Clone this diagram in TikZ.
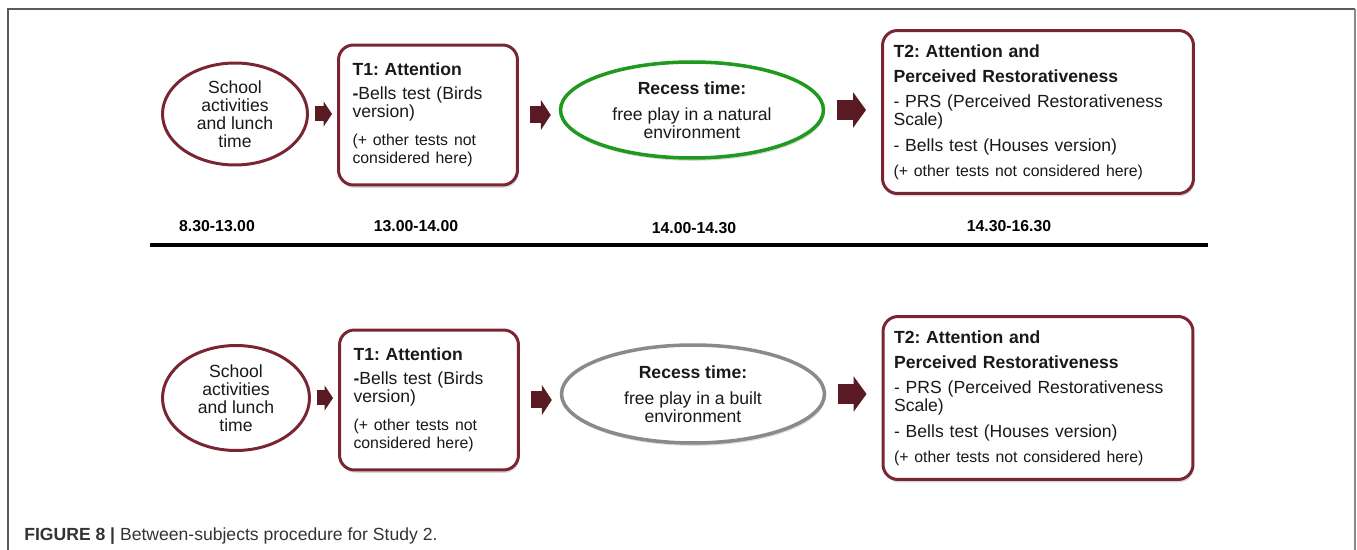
\documentclass[tikz,border=0pt]{standalone}
\usepackage{fontspec}
\setmainfont{Liberation Sans}
\usepackage{tikz}
\usetikzlibrary{arrows.meta,shapes.geometric,shadows}
\frenchspacing
\definecolor{boxmaroon}{HTML}{7A2532}
\definecolor{arrowmaroon}{HTML}{5A1A24}
\definecolor{naturegreen}{HTML}{1F9A1F}
\definecolor{builtgray}{HTML}{8A8A8A}
\definecolor{framegray}{HTML}{5A5A5A}
\definecolor{captiongray}{HTML}{333333}

\begin{document}
\begin{tikzpicture}[
    x=0.02cm, y=-0.02cm,
    every node/.style={font=\fontsize{10}{10.2}\selectfont, text=black!90},
    oval/.style={ellipse, draw=#1, line width=1.7pt, fill=white, inner sep=0pt, align=center},
    softshadow/.style={drop shadow={shadow xshift=0.6pt, shadow yshift=-1.6pt, opacity=0.25, fill=black!60}},
    testbox/.style={rectangle, rounded corners=8.5pt, draw=boxmaroon, line width=1.7pt, fill=white, align=left, inner ysep=0pt, softshadow},
    flow/.style n args={3}{arrowmaroon, line width=#1, -{Triangle[width=#2, length=#3]}},
    timelabel/.style={font=\bfseries\fontsize{9}{10}\selectfont, text=black}
]
    \useasboundingbox (0,0) rectangle (1357,550);

    % === FRAME ===
    \draw[framegray, line width=0.9pt] (8,550) -- (8,9) -- (1355,9);
    \draw[builtgray, line width=1.1pt] (1355,9) -- (1355,550);

    % === NATURAL ENVIRONMENT (top row) ===
    \node[oval=boxmaroon, minimum width=2.9cm, minimum height=2.04cm] (schoolA) at (235,114)
        {School\\activities\\and lunch\\time};
    \node[testbox, minimum width=3.58cm, minimum height=2.8cm, inner xsep=0.28cm, text width=3.02cm] (attA) at (428,115)
        {\textbf{T1: Attention}\\[3.2pt]\textbf{-}Bells test (Birds\\version)\\[6pt]\fontsize{9}{10.2}\selectfont(+ other tests not\\considered here)};
    \node[oval=naturegreen, line width=2pt, minimum width=5.26cm, minimum height=1.92cm, softshadow] (recessA) at (692,110)
        {\textbf{Recess time:}\\[4.5pt]free play in a natural\\environment};
    \node[testbox, minimum width=6.22cm, minimum height=3.26cm, inner xsep=0.22cm, text width=5.78cm] (attB) at (1038,112)
        {\textbf{T2: Attention and}\\[4pt]\textbf{Perceived Restorativeness}\\[4pt]- PRS (Perceived Restorativeness\\Scale)\\[4.5pt]- Bells test (Houses version)\\[4pt]{\fontsize{9}{10.2}\selectfont(+ other tests not considered here)}};

    \draw[flow={0.3cm}{0.5cm}{0.17cm}, shorten <=0.12cm, shorten >=0.1cm] (schoolA.east) -- (schoolA.east -| attA.west);
    \draw[flow={0.34cm}{0.6cm}{0.2cm}, shorten <=0.22cm, shorten >=0.16cm] (attA.east) -- (attA.east -| recessA.west);
    \draw[flow={0.4cm}{0.7cm}{0.26cm}, shorten <=0.24cm, shorten >=0.3cm] (recessA.east) -- (recessA.east -| attB.west);

    % === TIME LINE ===
    \node[timelabel] (timeA) at (217,226) {8.30-13.00};
    \node[timelabel] (timeB) at (416,226) {13.00-14.00};
    \node[timelabel] (timeC) at (694,228) {14.00-14.30};
    \node[timelabel] (timeD) at (1009,226) {14.30-16.30};
    \draw[black, line width=1.8pt] (150,245) -- (1208,245);

    % === BUILT ENVIRONMENT (bottom row) ===
    \node[oval=boxmaroon, minimum width=2.94cm, minimum height=2.1cm] (schoolB) at (236,398)
        {School\\activities\\and lunch\\time};
    \node[testbox, minimum width=3.58cm, minimum height=2.8cm, inner xsep=0.28cm, text width=3.02cm] (attC) at (429,400)
        {\textbf{T1: Attention}\\[3.2pt]\textbf{-}Bells test (Birds\\version)\\[6pt]\fontsize{9}{10.2}\selectfont(+ other tests not\\considered here)};
    \node[oval=builtgray, line width=2pt, minimum width=5.26cm, minimum height=1.96cm, softshadow] (recessB) at (693,394)
        {\textbf{Recess time:}\\[4.5pt]free play in a built\\environment};
    \node[testbox, minimum width=6.2cm, minimum height=3.26cm, inner xsep=0.22cm, text width=5.76cm] (attD) at (1038,398)
        {\textbf{T2: Attention and}\\[4pt]\textbf{Perceived Restorativeness}\\[4pt]- PRS (Perceived Restorativeness\\Scale)\\[4.5pt]- Bells test (Houses version)\\[4pt]{\fontsize{9}{10.2}\selectfont(+ other tests not considered here)}};

    \draw[flow={0.3cm}{0.5cm}{0.17cm}, shorten <=0.12cm, shorten >=0.1cm] (schoolB.east) -- (schoolB.east -| attC.west);
    \draw[flow={0.34cm}{0.6cm}{0.2cm}, shorten <=0.22cm, shorten >=0.16cm] (attC.east) -- (attC.east -| recessB.west);
    \draw[flow={0.4cm}{0.7cm}{0.26cm}, shorten <=0.24cm, shorten >=0.3cm] (recessB.east) -- (recessB.east -| attD.west);

    % Caption
    \node[anchor=west, inner sep=0pt, text=captiongray, font=\fontsize{10}{12}\selectfont] (caption) at (24,536)
        {\textbf{FIGURE 8 |} Between-subjects procedure for Study 2.};
\end{tikzpicture}
\end{document}
